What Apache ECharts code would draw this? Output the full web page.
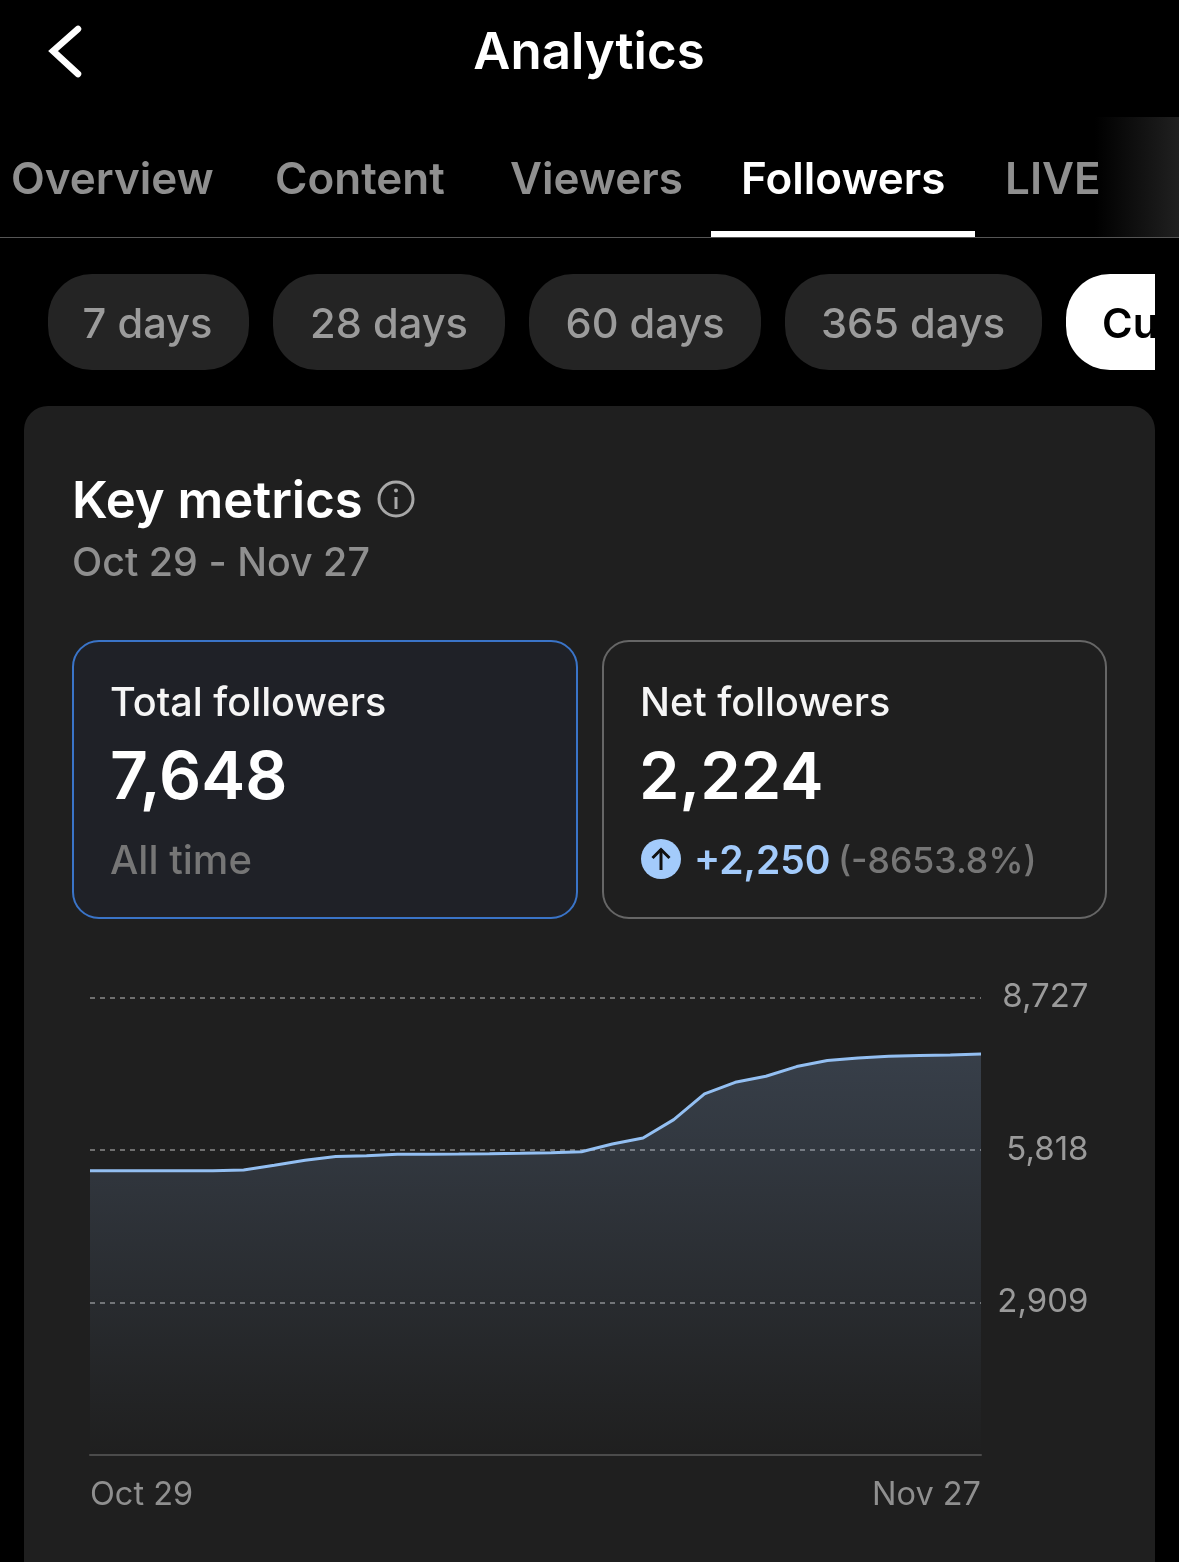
<!DOCTYPE html>
<html><head><meta charset="utf-8">
<style>html,body{margin:0;padding:0;background:#000}#c{width:1179px;height:1562px}</style>
<script src="https://cdn.jsdelivr.net/npm/echarts@6/dist/echarts.min.js"></script>
</head><body><div id="c"></div>
<script>
const dates = ['Oct 29','Oct 30','Oct 31','Nov 1','Nov 2','Nov 3','Nov 4','Nov 5','Nov 6','Nov 7','Nov 8','Nov 9','Nov 10','Nov 11','Nov 12','Nov 13','Nov 14','Nov 15','Nov 16','Nov 17','Nov 18','Nov 19','Nov 20','Nov 21','Nov 22','Nov 23','Nov 24','Nov 25','Nov 26','Nov 27'];
const totalFollowers = [5424,5424,5424,5424,5424,5437,5528,5624,5696,5710,5735,5738,5742,5748,5757,5767,5786,5933,6048,6397,6888,7109,7224,7409,7524,7575,7606,7623,7629,7648];
const axisMax = 8727;
const axisStep = 2909;
const FONT = 'Inter, Roboto, "Noto Sans", sans-serif';

function T(text,x,y,size,fill,weight,align){
  return {type:'text',z:-5,style:{text:text,x:x,y:y,fontSize:size,fontFamily:FONT,fontWeight:weight||400,fill:fill,align:align||'left',verticalAlign:'middle'}};
}
function R(x,y,w,h,r,fill,stroke,lw,z){
  return {type:'rect',z:z==null?-8:z,shape:{x:x,y:y,width:w,height:h,r:r},style:{fill:fill||'transparent',stroke:stroke||null,lineWidth:lw||0}};
}
const graphics = [
  R(24,406,1131,1200,24,'#1f1f1f'),
  // header
  {type:'polyline',z:-5,shape:{points:[[78,29],[53,51],[78,74]]},style:{stroke:'#fff',lineWidth:6.5,fill:null,lineCap:'round',lineJoin:'miter'}},
  T('Analytics',589,54,51,'#ffffff',600,'center'),
  // tabs
  {type:'rect',z:-8,shape:{x:1095,y:117,width:84,height:120},style:{fill:new echarts.graphic.LinearGradient(0,0,1,0,[{offset:0,color:'#000'},{offset:1,color:'#202020'}])}},
  T('Overview',11,181,44,'#8f8f8f',600),
  T('Content',275,181,44,'#8f8f8f',600),
  T('Viewers',510,181,44,'#8f8f8f',600),
  T('Followers',741,181,44,'#ffffff',600),
  T('LIVE',1005,181,44,'#8f8f8f',600),
  {type:'rect',z:-4,shape:{x:0,y:237,width:1179,height:1},style:{fill:'#555'}},
  {type:'rect',z:-3,shape:{x:711,y:231,width:264,height:6},style:{fill:'#fff'}},
  // range pills
  R(48,274,201,96,44,'#242424'), T('7 days',147.5,325,41.6,'#9b9b9b',500,'center'),
  R(273,274,232,96,44,'#242424'), T('28 days',389,325,41.6,'#9b9b9b',500,'center'),
  R(529,274,232,96,44,'#242424'), T('60 days',645,325,41.6,'#9b9b9b',500,'center'),
  R(785,274,257,96,44,'#242424'), T('365 days',913,325,41.6,'#9b9b9b',500,'center'),
  {type:'rect',z:-8,shape:{x:1066,y:274,width:89,height:96,r:[44,0,0,44]},style:{fill:'#fff'}},
  T('Cu',1102,325,41.6,'#000',600),
  {type:'rect',z:-4,shape:{x:1155,y:270,width:24,height:104},style:{fill:'#000'}},
  // card heading
  T('Key metrics',72,503,50.8,'#ffffff',600),
  {type:'circle',z:-5,shape:{cx:396,cy:499,r:17},style:{fill:null,stroke:'#a8a8a8',lineWidth:3}},
  {type:'rect',z:-5,shape:{x:394.5,y:497,width:3,height:12},style:{fill:'#a8a8a8'}},
  {type:'circle',z:-5,shape:{cx:396,cy:490.5,r:2},style:{fill:'#a8a8a8'}},
  T('Oct 29 - Nov 27',72,564,39.4,'#8f8f8f',500),
  // metric boxes
  R(73,641,504,277,26,'#1f2127','#3a74c8',2),
  R(603,641,503,277,26,null,'#666666',2),
  T('Total followers',110,704,39.6,'#f5f5f5',500),
  T('7,648',110,779,66,'#ffffff',600),
  T('All time',110,862,40,'#767676',500),
  T('Net followers',640,704,39.6,'#f5f5f5',500),
  T('2,224',639,779,65,'#ffffff',600),
  {type:'circle',z:-5,shape:{cx:661,cy:859,r:20},style:{fill:'#a3cbfb'}},
  {type:'polyline',z:-4,shape:{points:[[661,870],[661,849]]},style:{stroke:'#111',lineWidth:3,fill:null}},
  {type:'polyline',z:-4,shape:{points:[[652.5,858],[661,849.5],[669.5,858]]},style:{stroke:'#111',lineWidth:3,fill:null}},
  T('+2,250',694,862,39,'#a3cbfb',600),
  T('(-8653.8%)',838,862,35.6,'#767676',500)
];

const chart = echarts.init(document.getElementById('c'),null,{width:1179,height:1562});
chart.setOption({
  backgroundColor:'#000',
  animation:false,
  graphic:graphics,
  grid:{left:90,right:198,top:997.5,bottom:107,containLabel:false},
  xAxis:{type:'category',boundaryGap:false,data:dates,
    axisLine:{lineStyle:{color:'#4b4b4b',width:2}},axisTick:{show:false},splitLine:{show:false},
    axisLabel:{margin:24,color:'#8f8f8f',fontSize:32.5,fontFamily:FONT,alignMinLabel:'left',alignMaxLabel:'right',
      interval:function(i){return i===0||i===dates.length-1;}}},
  yAxis:{type:'value',position:'right',min:0,max:axisMax,interval:axisStep,
    axisLine:{show:false},axisTick:{show:false},
    splitLine:{lineStyle:{color:'#8a8a8a',type:[5,5],width:1.5}},
    axisLabel:{align:'right',margin:107.5,color:'#9a9a9a',fontSize:33,fontFamily:FONT,fontWeight:400,
      formatter:function(v){return v===0?'':v.toLocaleString('en-US');}}},
  series:[{type:'line',data:totalFollowers,showSymbol:false,smooth:false,clip:true,
    lineStyle:{color:'#93bff2',width:3},
    areaStyle:{color:new echarts.graphic.LinearGradient(0,0,0,1,[{offset:0,color:'rgba(160,200,255,0.27)'},{offset:1,color:'rgba(160,200,255,0)'}])}}]
});
</script></body></html>
